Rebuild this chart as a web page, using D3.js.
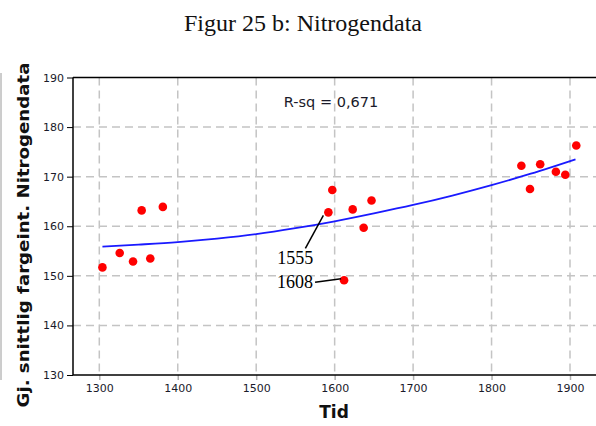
<!DOCTYPE html>
<html><head><meta charset="utf-8">
<script src="https://cdn.jsdelivr.net/npm/d3@7/dist/d3.min.js"></script>
<style>body{margin:0;background:#fff}svg{display:block}</style>
</head><body>
<svg id="chart" width="596" height="426"></svg>
<script>
// ---- data ----
const years  = [1304, 1326, 1343, 1354, 1365, 1381, 1592, 1597, 1612, 1623, 1637, 1647, 1838, 1849, 1862, 1882, 1894, 1908];
const values = [151.7, 154.6, 152.9, 163.2, 153.5, 163.9, 162.8, 167.3, 149.1, 163.4, 159.7, 165.2, 172.2, 167.5, 172.5, 171.0, 170.4, 176.3];
const fitYears  = [1304, 1350, 1400, 1450, 1500, 1550, 1600, 1650, 1700, 1750, 1800, 1850, 1907];
const fitValues = [155.9, 156.3, 156.8, 157.5, 158.4, 159.6, 161.0, 162.6, 164.3, 166.2, 168.3, 170.6, 173.5];
const xTicks = [1300, 1400, 1500, 1600, 1700, 1800, 1900];
const yTicks = [130, 140, 150, 160, 170, 180, 190];
const labelYears = [1592, 1612];
const labelTexts = ["1555", "1608"];
const title = "Figur 25 b: Nitrogendata";
const xTitle = "Tid";
const yTitle = "Gj. snittlig fargeint. Nitrogendata";
const rsqText = "R-sq = 0,671";

// ---- layout ----
const mLeft = 73, mTop = 77.5, mBottom = 375, mRight = 600;
const svg = d3.select("#chart");
const x = d3.scaleLinear().domain([1300, 1900]).range([99.3, 570]);
const y = d3.scaleLinear().domain([130, 190]).range([mBottom, mTop]);

// title
svg.append("text").attr("x", 303).attr("y", 31).attr("text-anchor", "middle")
  .attr("font-family", "Liberation Serif, Times New Roman, serif").attr("font-size", 24)
  .attr("fill", "#111").text(title);

// outer frame line at left
svg.append("line").attr("x1", 1).attr("x2", 1).attr("y1", 73).attr("y2", 380)
  .attr("stroke", "#9a9a9a").attr("stroke-width", 1);

// grid
const grid = svg.append("g").attr("stroke", "#c4c4c4").attr("stroke-width", 1.5).attr("stroke-dasharray", "8,5");
grid.selectAll("line.v").data(xTicks).join("line").attr("class", "v")
  .attr("x1", d => x(d)).attr("x2", d => x(d)).attr("y1", mTop).attr("y2", mBottom);
grid.selectAll("line.h").data(yTicks.filter(d => d > 130 && d < 190)).join("line").attr("class", "h")
  .attr("x1", mLeft).attr("x2", mRight).attr("y1", d => y(d)).attr("y2", d => y(d));

// axes
const xAxis = d3.axisBottom(x).tickValues(xTicks).tickFormat(d3.format("d")).tickSizeOuter(0).tickSize(5).tickPadding(4);
const gx = svg.append("g").attr("transform", `translate(0,${mBottom})`).call(xAxis);
gx.select(".domain").remove();
gx.selectAll(".tick line").attr("stroke", "#b0b0b0").attr("stroke-width", 1.5);
gx.selectAll(".tick text").attr("font-family", "DejaVu Sans, Verdana, sans-serif").attr("font-size", 11).attr("fill", "#1a1a2a");

const yAxis = d3.axisLeft(y).tickValues(yTicks).tickSizeOuter(0).tickSize(6).tickPadding(3);
const gy = svg.append("g").attr("transform", `translate(${mLeft},0)`).call(yAxis);
gy.select(".domain").remove();
gy.selectAll(".tick line").attr("stroke", "#000").attr("stroke-width", 1);
gy.selectAll(".tick text").attr("font-family", "DejaVu Sans, Verdana, sans-serif").attr("font-size", 11).attr("fill", "#1a1a2a");

// frame lines
svg.append("line").attr("x1", mLeft).attr("x2", mLeft).attr("y1", mTop).attr("y2", mBottom).attr("stroke", "#000").attr("stroke-width", 1.5);
svg.append("line").attr("x1", mLeft).attr("x2", mRight).attr("y1", mBottom).attr("y2", mBottom).attr("stroke", "#000").attr("stroke-width", 1.5);
svg.append("line").attr("x1", mLeft).attr("x2", mRight).attr("y1", mTop).attr("y2", mTop).attr("stroke", "#000").attr("stroke-width", 1.5);

// fit line
const line = d3.line().x((d, i) => x(fitYears[i])).y(d => y(d)).curve(d3.curveMonotoneX);
svg.append("path").attr("d", line(fitValues)).attr("fill", "none").attr("stroke", "#1a1aff").attr("stroke-width", 1.8);

// points
svg.append("g").selectAll("circle").data(values).join("circle")
  .attr("cx", (d, i) => x(years[i])).attr("cy", d => y(d)).attr("r", 4.3).attr("fill", "#ff0000");

// labels with leader lines
const lab = svg.append("g");
labelYears.forEach((yr, k) => {
  const i = years.indexOf(yr);
  const px = x(years[i]), py = y(values[i]);
  if (k === 0) {
    lab.append("text").attr("x", px - 33).attr("y", py + 52).attr("text-anchor", "middle")
      .attr("font-family", "Liberation Serif, Times New Roman, serif").attr("font-size", 18).text(labelTexts[k]);
    lab.append("line").attr("x1", px - 23).attr("y1", py + 36).attr("x2", px - 5).attr("y2", py + 3)
      .attr("stroke", "#000").attr("stroke-width", 1.5);
  } else {
    lab.append("text").attr("x", px - 49).attr("y", py + 8).attr("text-anchor", "middle")
      .attr("font-family", "Liberation Serif, Times New Roman, serif").attr("font-size", 18).text(labelTexts[k]);
    lab.append("line").attr("x1", px - 29).attr("y1", py + 2).attr("x2", px - 3).attr("y2", py - 1.5)
      .attr("stroke", "#000").attr("stroke-width", 1.5);
  }
});

// R-sq
svg.append("text").attr("x", 331).attr("y", 107).attr("text-anchor", "middle")
  .attr("font-family", "DejaVu Sans, Verdana, sans-serif").attr("font-size", 14.5).attr("fill", "#1a1a2a").text(rsqText);

// axis titles
svg.append("text").attr("x", 334).attr("y", 418).attr("text-anchor", "middle")
  .attr("font-family", "DejaVu Sans, Verdana, sans-serif").attr("font-weight", "bold").attr("font-size", 17)
  .attr("fill", "#111").text(xTitle);
svg.append("text").attr("transform", "translate(29,235) rotate(-90)").attr("text-anchor", "middle")
  .attr("font-family", "DejaVu Sans, Verdana, sans-serif").attr("font-weight", "bold").attr("font-size", 16)
  .attr("textLength", 345).attr("lengthAdjust", "spacingAndGlyphs")
  .attr("fill", "#111").text(yTitle);
</script>
</body></html>
